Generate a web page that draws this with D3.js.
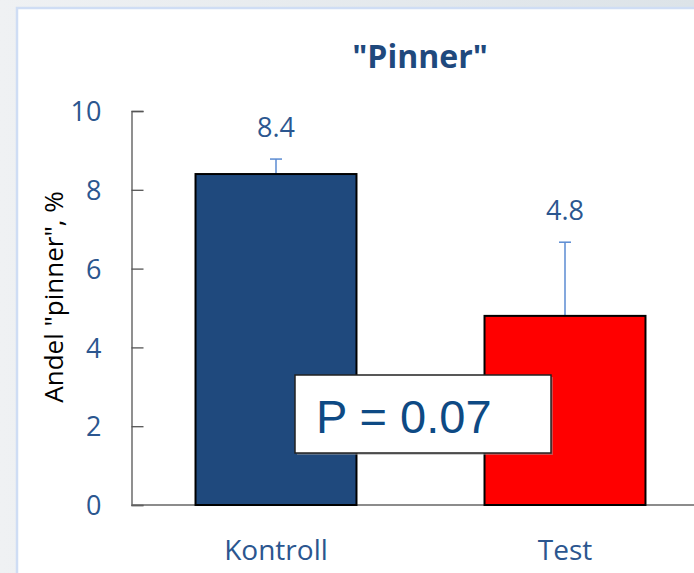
<!DOCTYPE html>
<html>
<head>
<meta charset="utf-8">
<script src="https://cdn.jsdelivr.net/npm/d3@7"></script>
<style>
  html, body { margin: 0; padding: 0; background: #eef0f2; }
  svg { display: block; }
</style>
</head>
<body>
<div id="chart"></div>
<script>
// data
var groups = ["Kontroll", "Test"];
var shares = [8.4, 4.8];
var errors = [0.38, 1.87];
var barColors = ["#1f497d", "#ff0000"];
var yTicks = [0, 2, 4, 6, 8, 10];

var W = 694, H = 573;

var svg = d3.select("#chart").append("svg")
    .attr("width", W)
    .attr("height", H);

// slide-ish background
var defs = svg.append("defs");
var grad = defs.append("linearGradient").attr("id", "bg").attr("x1", 0).attr("x2", 1);
grad.append("stop").attr("offset", 0).attr("stop-color", "#eff1f3");
grad.append("stop").attr("offset", 1).attr("stop-color", "#dce3e8");
svg.append("rect").attr("width", W).attr("height", H).attr("fill", "url(#bg)");

svg.append("rect")
    .attr("x", 17).attr("y", 8)
    .attr("width", W).attr("height", H)
    .attr("fill", "#fff")
    .attr("stroke", "#cfddf4")
    .attr("stroke-width", 2.5);

var x = d3.scaleBand()
    .domain(groups)
    .range([131.5, 709.5])
    .paddingInner(0.443)
    .paddingOuter(0.2215);

var y = d3.scaleLinear()
    .domain([0, 10])
    .range([505, 111]);

// title
svg.append("text")
    .attr("x", 420)
    .attr("y", 68)
    .attr("text-anchor", "middle")
    .style("font-family", "'Open Sans', sans-serif")
    .style("font-weight", "bold")
    .style("font-size", "32px")
    .attr("fill", "#1f497d")
    .text('"Pinner"');

// y axis
var yAxis = d3.axisLeft(y).tickValues(yTicks).tickSize(-12).tickPadding(30);
var gy = svg.append("g")
    .attr("transform", "translate(131.5,0)")
    .call(yAxis);
gy.select(".domain").attr("stroke", "#555").attr("stroke-width", 1.3);
gy.selectAll(".tick line").attr("stroke", "#555").attr("stroke-width", 1.3);
gy.selectAll(".tick text")
    .attr("x", -30)
    .attr("dy", "0.36em")
    .style("font-family", "'Open Sans', sans-serif")
    .style("font-size", "27px")
    .attr("fill", "#2b568f");

svg.append("text")
    .attr("transform", "translate(63,297) rotate(-90)")
    .attr("text-anchor", "middle")
    .style("font-family", "'Open Sans', sans-serif")
    .style("font-size", "26px")
    .attr("fill", "#000")
    .text('Andel "pinner", %');

// x axis line
svg.append("line")
    .attr("x1", 131.5).attr("x2", W)
    .attr("y1", y(0)).attr("y2", y(0))
    .attr("stroke", "#666").attr("stroke-width", 1.5);

var rows = groups.map(function(g, i) {
    return { name: g, value: shares[i], se: errors[i], color: barColors[i] };
});

// error bars (upper half)
var eb = svg.selectAll(".err").data(rows).enter().append("g").attr("class", "err")
    .attr("stroke", "#5b8bd2").attr("stroke-width", 1.5);
eb.append("line")
    .attr("x1", function(d) { return x(d.name) + x.bandwidth() / 2; })
    .attr("x2", function(d) { return x(d.name) + x.bandwidth() / 2; })
    .attr("y1", function(d) { return y(d.value); })
    .attr("y2", function(d) { return y(d.value + d.se); });
eb.append("line")
    .attr("x1", function(d) { return x(d.name) + x.bandwidth() / 2 - 6; })
    .attr("x2", function(d) { return x(d.name) + x.bandwidth() / 2 + 6; })
    .attr("y1", function(d) { return y(d.value + d.se); })
    .attr("y2", function(d) { return y(d.value + d.se); });

// bars
svg.selectAll(".bar").data(rows).enter().append("rect")
    .attr("class", "bar")
    .attr("x", function(d) { return x(d.name); })
    .attr("y", function(d) { return y(d.value); })
    .attr("width", x.bandwidth())
    .attr("height", function(d) { return y(0) - y(d.value); })
    .attr("fill", function(d) { return d.color; })
    .attr("stroke", "#000")
    .attr("stroke-width", 2);

// value labels
svg.selectAll(".val").data(rows).enter().append("text")
    .attr("class", "val")
    .attr("x", function(d) { return x(d.name) + x.bandwidth() / 2; })
    .attr("y", function(d) { return y(d.value + d.se) - 22; })
    .attr("text-anchor", "middle")
    .style("font-family", "'Open Sans', sans-serif")
    .style("font-size", "27px")
    .attr("fill", "#2b568f")
    .text(function(d) { return d3.format(".1f")(d.value); });

// category labels
svg.selectAll(".cat").data(rows).enter().append("text")
    .attr("class", "cat")
    .attr("x", function(d) { return x(d.name) + x.bandwidth() / 2; })
    .attr("y", 560)
    .attr("text-anchor", "middle")
    .style("font-family", "'Open Sans', sans-serif")
    .style("font-size", "28px")
    .attr("fill", "#2b568f")
    .text(function(d) { return d.name; });

// p-value box
svg.append("rect")
    .attr("x", 297).attr("y", 377)
    .attr("width", 256).attr("height", 78)
    .attr("fill", "#999").attr("opacity", 0.5);
svg.append("rect")
    .attr("x", 295).attr("y", 375)
    .attr("width", 256).attr("height", 78)
    .attr("fill", "#fff")
    .attr("stroke", "#222")
    .attr("stroke-width", 1.5);
svg.append("text")
    .attr("x", 316)
    .attr("y", 433)
    .style("font-family", "'Liberation Sans', Arial, sans-serif")
    .style("font-size", "47px")
    .attr("fill", "#0e4a84")
    .text("P = 0.07");
</script>
</body>
</html>
